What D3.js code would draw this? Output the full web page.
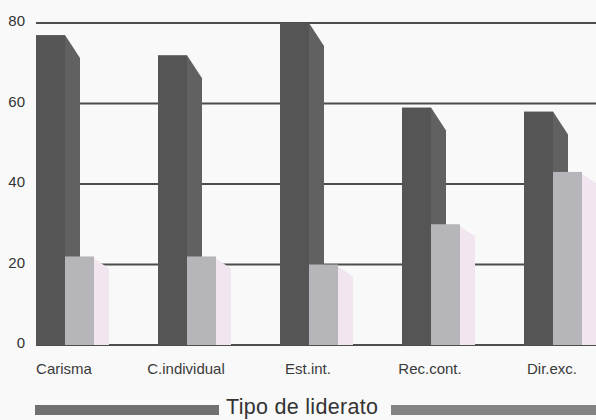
<!DOCTYPE html>
<html>
<head>
<meta charset="utf-8">
<script src="https://cdn.jsdelivr.net/npm/d3@7"></script>
<style>
  body { margin: 0; background: #f9f9f9; }
  svg { display: block; font-family: "Liberation Sans", Arial, sans-serif; }
</style>
</head>
<body>
<div id="chart"></div>
<script>
const categories = ["Carisma", "C.individual", "Est.int.", "Rec.cont.", "Dir.exc."];
const seriesDark = [77, 72, 80, 59, 58];
const seriesLight = [22, 22, 20, 30, 43];
const yTicks = [0, 20, 40, 60, 80];
const legendLabel = "Tipo de liderato";

const width = 596, height = 420;
const svg = d3.select("#chart").append("svg")
    .attr("width", width)
    .attr("height", height);

svg.append("rect").attr("width", width).attr("height", height).attr("fill", "#f9f9f9");

const y = d3.scaleLinear().domain([0, 80]).range([345, 23]);
const x = d3.scaleBand().domain(categories).range([36, 36 + 122 * 5]);
const inner = d3.scaleBand().domain(["a", "b"]).range([0, 58]);

// side face depth
const dx = 15, dy = 23;

// gridlines
svg.append("g").selectAll("line")
    .data(yTicks)
    .enter()
    .append("line")
    .attr("x1", 36)
    .attr("x2", width)
    .attr("y1", d => y(d))
    .attr("y2", d => y(d))
    .attr("stroke", "#4d4d4d")
    .attr("stroke-width", 2);

// tick labels
svg.append("g").selectAll("text")
    .data(yTicks)
    .enter()
    .append("text")
    .attr("x", 25)
    .attr("y", d => y(d) + 3)
    .attr("text-anchor", "end")
    .style("font-size", "15px")
    .style("fill", "#333")
    .text(d => d);

const sidePath = (x0, top, bottom, depth) =>
    `M${x0},${top} L${x0 + dx},${top + depth} L${x0 + dx},${bottom} L${x0},${bottom} Z`;

const groups = svg.append("g").selectAll("g")
    .data(categories)
    .enter()
    .append("g")
    .attr("transform", d => `translate(${x(d)},0)`);

// dark bar: side then front
groups.append("path")
    .attr("d", (d, i) => sidePath(inner("a") + inner.bandwidth(), y(seriesDark[i]), y(0), dy))
    .attr("fill", "#616161");
groups.append("rect")
    .attr("x", inner("a"))
    .attr("width", inner.bandwidth())
    .attr("y", (d, i) => y(seriesDark[i]))
    .attr("height", (d, i) => y(0) - y(seriesDark[i]))
    .attr("fill", "#555555");

// light bar: side then front
groups.append("path")
    .attr("d", (d, i) => sidePath(inner("b") + inner.bandwidth(), y(seriesLight[i]) + 2, y(0), 10))
    .attr("fill", "#f1e5ef");
groups.append("rect")
    .attr("x", inner("b"))
    .attr("width", inner.bandwidth())
    .attr("y", (d, i) => y(seriesLight[i]))
    .attr("height", (d, i) => y(0) - y(seriesLight[i]))
    .attr("fill", "#b5b5ba");

// category labels
groups.append("text")
    .attr("x", 28)
    .attr("y", 374)
    .attr("text-anchor", "middle")
    .style("font-size", "15px")
    .style("fill", "#3a3a3a")
    .text(d => d);

// legend
svg.append("rect")
    .attr("x", 35).attr("y", 405).attr("width", 184).attr("height", 10)
    .attr("fill", "#707070");
svg.append("text")
    .attr("x", 226).attr("y", 414)
    .style("font-size", "21.5px")
    .style("letter-spacing", "0.3px")
    .style("fill", "#333")
    .text(legendLabel);
svg.append("rect")
    .attr("x", 391).attr("y", 405).attr("width", 205).attr("height", 10)
    .attr("fill", "#838383");
</script>
</body>
</html>
